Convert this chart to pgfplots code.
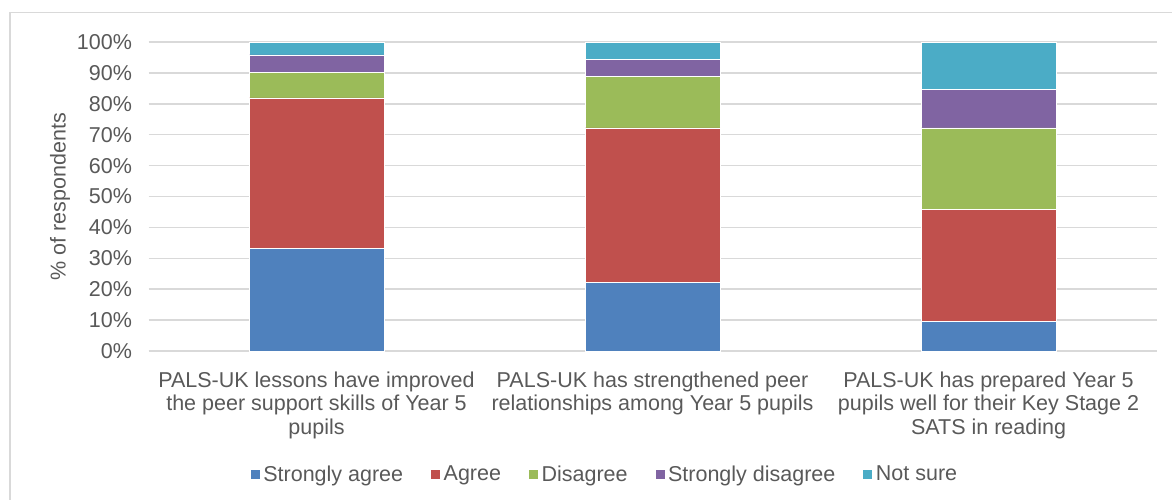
\documentclass[border=0pt]{standalone}
\usepackage{fontspec}
\setmainfont{Liberation Sans}
\usepackage{pgfplots}
\pgfplotsset{compat=1.18}

\definecolor{sagree}{HTML}{4F81BD}
\definecolor{agree}{HTML}{C0504D}
\definecolor{disagree}{HTML}{9BBB59}
\definecolor{sdisagree}{HTML}{8064A2}
\definecolor{notsure}{HTML}{4BACC6}
\definecolor{gridgray}{HTML}{D9D9D9}
\definecolor{textgray}{HTML}{595959}

\newcommand{\chartfont}{\fontsize{21.5}{23.5}\selectfont}

\begin{document}
\begin{tikzpicture}
\useasboundingbox (0pt,0pt) rectangle (1172pt,-499pt);
% chart area frame (left and top edges)
\draw[gridgray, line width=1.5pt] (10pt,-520pt) -- (10pt,-12.5pt) -- (1180pt,-12.5pt);
\begin{axis}[
  at={(148.5pt,-351pt)}, anchor=south west,
  scale only axis, width=1008pt, height=309pt,
  ybar stacked, bar width=135pt,
  xmin=-0.5, xmax=2.5, ymin=0, ymax=100,
  axis x line*=bottom, axis y line*=left,
  x axis line style={draw=gridgray, line width=1.5pt, -},
  y axis line style={draw=none},
  major tick length=0pt,
  ymajorgrids, grid style={draw=gridgray, line width=1.5pt},
  ytick={0,10,...,100},
  yticklabels={0\%,10\%,20\%,30\%,40\%,50\%,60\%,70\%,80\%,90\%,100\%},
  yticklabel style={font=\chartfont, text=textgray, xshift=-13pt},
  xtick={0,1,2},
  xticklabels={
    {PALS-UK lessons have improved\\the peer support skills of Year 5\\pupils},
    {PALS-UK has strengthened peer\\relationships among Year 5 pupils},
    {PALS-UK has prepared Year 5\\pupils well for their Key Stage 2\\SATS in reading}},
  xticklabel style={font=\chartfont, text=textgray, align=center, yshift=-17pt},
  ylabel={\% of respondents},
  ylabel style={font=\chartfont, text=textgray, at={(axis description cs:-0.0878,0.5)}, anchor=center},
  legend style={at={(0.4529,-0.398)}, anchor=center, draw=none, fill=none,
    font=\chartfont, text=textgray, legend columns=-1,
    /tikz/every even column/.append style={column sep=24pt},
    nodes={inner xsep=3pt},
    inner sep=0pt, legend cell align=left},
  legend image code/.code={\fill[#1] (0pt,-5pt) rectangle (10pt,5pt);},
  every axis plot/.append style={draw=white, line width=0.5pt},
]
\addplot[fill=sagree] coordinates {(0,33.3) (1,22.2) (2,9.7)};
\addplot[fill=agree] coordinates {(0,48.6) (1,50.0) (2,36.1)};
\addplot[fill=disagree] coordinates {(0,8.3) (1,16.7) (2,26.4)};
\addplot[fill=sdisagree] coordinates {(0,5.6) (1,5.6) (2,12.5)};
\addplot[fill=notsure] coordinates {(0,4.2) (1,5.5) (2,15.3)};
\legend{Strongly agree, Agree, Disagree, Strongly disagree, Not sure}
\end{axis}
\end{tikzpicture}
\end{document}
